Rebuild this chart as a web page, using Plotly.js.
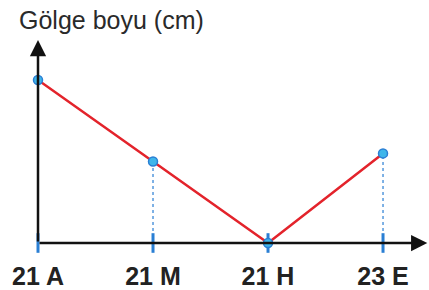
<!DOCTYPE html>
<html><head><meta charset="utf-8">
<script src="https://cdn.plot.ly/plotly-3.0.1.min.js"></script>
<style>html,body{margin:0;padding:0;background:#fff}#c{width:429px;height:290px}</style>
</head><body><div id="c"></div>
<script>
const categories = ["21 A", "21 M", "21 H", "23 E"];
const positions = [0, 1, 2, 3];
const shadowLength = [8, 4, 0, 4.4];
const titleText = "Gölge boyu (cm)";

const xMax = 3.365, yMax = 9.87;
const red = "#e3232b", blue = "#2a7fd4", light = "#3fb6ea";

const traces = [];
// dotted drop lines
positions.forEach((p, i) => {
  if (i === 0 || shadowLength[i] === 0) return;
  traces.push({x:[p,p], y:[0, shadowLength[i]], mode:'lines', line:{color:blue, width:1.2, dash:'dot'}, hoverinfo:'skip', showlegend:false});
});
// main line
traces.push({x:positions, y:shadowLength, mode:'lines', line:{color:red, width:2.5}, showlegend:false});

const layout = {
  width:429, height:290,
  margin:{l:38, r:4, t:42, b:47},
  paper_bgcolor:'#fff', plot_bgcolor:'#fff',
  font:{family:'"Liberation Sans", Arial, sans-serif', color:'#222'},
  title:{text:titleText, font:{size:25, color:'#2a2a2a'}, xref:'container', x:19/429, xanchor:'left', yref:'container', y:1-20/290, yanchor:'middle'},
  xaxis:{range:[0,xMax], tickvals:positions, ticktext:categories, showgrid:false, zeroline:false, showline:false, ticks:'', tickfont:{size:25, color:'#222', weight:'bold'}, ticklabelstandoff:16, fixedrange:true},
  yaxis:{range:[0,yMax], showgrid:false, zeroline:false, showline:false, showticklabels:false, ticks:'', fixedrange:true},
  annotations:[
    {x:xMax+0.02, y:0, ax:0, ay:0, axref:'x', ayref:'y', xref:'x', yref:'y', showarrow:true, arrowhead:2, arrowsize:1.3, arrowwidth:2.5, arrowcolor:'#111', text:''},
    {x:0, y:yMax+0.1, ax:0, ay:0, axref:'x', ayref:'y', xref:'x', yref:'y', showarrow:true, arrowhead:2, arrowsize:1.3, arrowwidth:2.5, arrowcolor:'#111', text:''}
  ],
  showlegend:false
};
Plotly.newPlot('c', traces, layout, {displayModeBar:false, staticPlot:true}).then(() => {
  // overlay traces above the axis arrows
  Plotly.addTraces('c', [
    {x:positions, y:positions.map(()=>0), mode:'markers', marker:{symbol:'line-ns', size:14, line:{color:blue, width:3}}, hoverinfo:'skip', showlegend:false, cliponaxis:false},
    {x:positions, y:shadowLength, mode:'markers', marker:{size:9, color:light, line:{color:blue, width:1.5}}, showlegend:false, cliponaxis:false}
  ]);
});
</script></body></html>
